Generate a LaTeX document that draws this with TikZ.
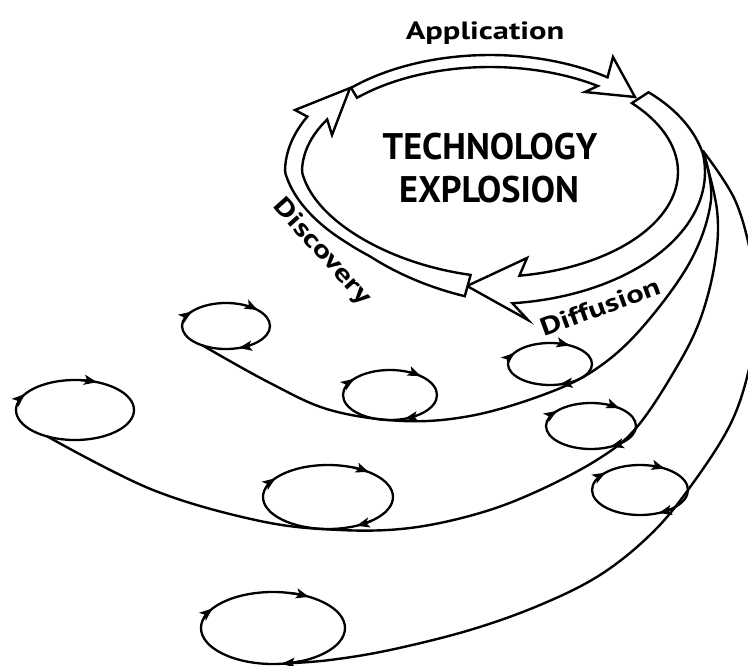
\documentclass[tikz,border=0pt]{standalone}
\usepackage{fontspec}
\usepackage{graphicx}
\setmainfont{PT Sans}
\usetikzlibrary{arrows.meta,shapes.geometric}
\newcommand\looptips[5]{%
  \foreach \a in {#5}{%
    \pgfmathsetmacro\bstart{\a-16}%
    \draw[looptip] plot[domain=\bstart:\a, samples=6, variable=\t] ({#1+#3*cos(\t)},{#2+#4*sin(\t)});
  }}
\begin{document}
\begin{tikzpicture}[x=1pt,y=-1pt,
  ln/.style={line width=2.4pt},
  band/.style={ln, fill=white, line join=miter, miter limit=20},
  fan/.style={ln, line cap=round},
  loopnode/.style={ellipse, draw, line width=2.3pt, inner sep=0pt, outer sep=0pt},
  looptip/.style={line width=2.3pt, -{Stealth[length=13pt,width=10pt,inset=3pt]}},
  lbl/.style={font=\fontsize{25}{27}\selectfont\bfseries},
  ctr/.style={font=\fontsize{37}{42}\selectfont\bfseries},
]
\useasboundingbox (0,0) rectangle (748,666);
\clip (0,0) rectangle (748,666);

% ---------- small loops ----------
\node[loopnode, minimum width=88,  minimum height=46] (A) at (226,326) {};
\node[loopnode, minimum width=94,  minimum height=50] (B) at (390,395) {};
\node[loopnode, minimum width=84,  minimum height=42] (C) at (550,364) {};
\node[loopnode, minimum width=118, minimum height=60] (D) at (75,410) {};
\node[loopnode, minimum width=130, minimum height=64] (E) at (328,497) {};
\node[loopnode, minimum width=90,  minimum height=46] (F) at (591,426) {};
\node[loopnode, minimum width=96,  minimum height=50] (G) at (640,490) {};
\node[loopnode, minimum width=144, minimum height=72] (H) at (273,628) {};

\looptips{226}{326}{44}{23}{219,316,73}
\looptips{390}{395}{47}{25}{220,311,72}
\looptips{550}{364}{42}{21}{212,298,77}
\looptips{75}{410}{59}{30}{212,292}
\looptips{328}{497}{65}{32}{216,309,64}
\looptips{591}{426}{45}{23}{221,309,64}
\looptips{640}{490}{48}{25}{224,301,67}
\looptips{273}{628}{72}{36}{213,300,83}

% ---------- fan curves from the ring ----------
\coordinate (P) at (703,151);
\draw[fan] plot[smooth, tension=0.6] coordinates {(P) (711,200) (690,262) (640,330) (593,371) (540,396) (470,416) (403,421) (330,410) (270,383) (A.220)};
\draw[fan] plot[smooth, tension=0.6] coordinates {(P) (717,210) (715,262) (700,320) (675,370) (637,427) (600,458) (540,490) (480,513) (410,528) (340,530) (260,521) (153,490) (D.224)};
\draw[fan] plot[smooth, tension=0.6] coordinates {(P) (735,200) (752,260) (757,310) (750,365) (730,425) (688,490) (650,535) (600,575) (540,605) (470,630) (390,650) (330,660) (H.-72)};

% ---------- ring of three broad arrows ----------
% Application (top)
\draw[band] plot[domain=226:306, samples=40, variable=\t] ({490+200*cos(\t)},{172+117*sin(\t)})
  -- (613,57) -- (635,97) -- (585,92)
  -- plot[domain=305:225, samples=40, variable=\t] ({490+188*cos(\t)},{172+105*sin(\t)}) -- cycle;
% Diffusion (right and bottom)
\draw[band] plot[domain=320:444, samples=60, variable=\t]
    ({490+(188+27-8*max(0,(352-\t)/32))*cos(\t)},{172+(105+27-8*max(0,(352-\t)/32))*sin(\t)})
  -- (528,320) -- (467,286) -- (527,258)
  -- plot[domain=441:319, samples=60, variable=\t] ({490+188*cos(\t)},{172+105*sin(\t)}) -- cycle;
% Discovery (bottom-left and left)
\draw[band] plot[domain=97:207, samples=60, variable=\t]
    ({490+(188+13+9*max(0,(130-\t)/32)+4*min(1,max(0,(\t-140)/40)))*(1-0.07*max(0,sin(2*(\t-90))))*cos(\t)},
     {172+(105+13+9*max(0,(130-\t)/32)+4*min(1,max(0,(\t-140)/40)))*(1-0.07*max(0,sin(2*(\t-90))))*sin(\t)})
  -- (295,110) -- (350,88) -- (332,135)
  -- plot[domain=210:96, samples=60, variable=\t]
    ({490+188*(1-0.07*max(0,sin(2*(\t-90))))*cos(\t)},{172+105*(1-0.07*max(0,sin(2*(\t-90))))*sin(\t)}) -- cycle;

% ---------- texts ----------
\node[lbl, anchor=base] (app) at (485,40) {\scalebox{1.3}[1]{Application}};
\node[ctr] (t1) at (490,147) {\scalebox{0.98}[1]{TECHNOLOGY}};
\node[ctr] (t2) at (489,190) {\scalebox{0.98}[1]{EXPLOSION}};
\node[lbl, rotate=20] (dif) at (600,307) {\scalebox{1.3}[1]{Diffusion}};
\node[lbl, rotate=-48] (dis) at (322,252) {\scalebox{1.3}[1]{Discovery}};
\end{tikzpicture}
\end{document}
